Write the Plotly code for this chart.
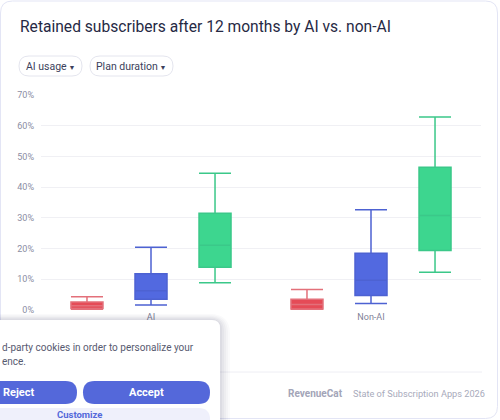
import plotly.graph_objects as go

# ---------------- data ----------------
groups = ["AI", "Non-AI"]
series_names = ["Weekly", "Monthly", "Yearly"]
series_colors = ["#E54B57", "#5269E0", "#3DD68F"]
series_lines = ["#E3707A", "#4D62D2", "#3BC889"]

weekly_min = [0.0, 0.0]
weekly_q1 = [0.5, 0.3]
weekly_med = [1.4, 1.8]
weekly_q3 = [2.6, 3.5]
weekly_max = [4.3, 6.7]

monthly_min = [1.6, 2.1]
monthly_q1 = [3.5, 4.7]
monthly_med = [6.3, 9.7]
monthly_q3 = [11.8, 18.5]
monthly_max = [20.4, 32.6]

yearly_min = [8.9, 12.3]
yearly_q1 = [13.9, 19.4]
yearly_med = [21.1, 30.8]
yearly_q3 = [31.5, 46.5]
yearly_max = [44.5, 62.8]

y_ticks = [0, 10, 20, 30, 40, 50, 60, 70]
y_tick_text = [f"{v}%" for v in y_ticks]

title_text = "Retained subscribers after 12 months by AI vs. non-AI"
filters = ["AI usage", "Plan duration"]

# ---------------- layout geometry ----------------
W, H = 500, 420
L, R, T, B = 41, 19, 95, 110
PW, PH = W - L - R, H - T - B
FONT = "Roboto, 'Liberation Sans', sans-serif"


def px(x):
    return (x - L) / PW


def py(y):
    return (H - B - y) / PH


def rounded_path(x0, y0, x1, y1, r):
    a, b, c, d = px(x0), py(y0), px(x1), py(y1)
    rx, ry = r / PW, r / PH
    return (f"M {a+rx},{b} L {c-rx},{b} Q {c},{b} {c},{b-ry} "
            f"L {c},{d+ry} Q {c},{d} {c-rx},{d} L {a+rx},{d} "
            f"Q {a},{d} {a},{d+ry} L {a},{b-ry} Q {a},{b} {a+rx},{b} Z")


fig = go.Figure()

stats = [
    (weekly_min, weekly_q1, weekly_med, weekly_q3, weekly_max),
    (monthly_min, monthly_q1, monthly_med, monthly_q3, monthly_max),
    (yearly_min, yearly_q1, yearly_med, yearly_q3, yearly_max),
]
for name, col, lcol, (mn, q1, med, q3, mx) in zip(series_names, series_colors, series_lines, stats):
    fig.add_trace(go.Box(
        name=name, x=groups, lowerfence=mn, q1=q1, median=med, q3=q3, upperfence=mx,
        fillcolor=col, line=dict(color=lcol, width=1.5), whiskerwidth=1,
        showlegend=False, hoverinfo="skip",
    ))

shapes = []
# card
shapes.append(dict(type="path", xref="paper", yref="paper",
                   path=rounded_path(0.5, 1, 497.5, 418.5, 12),
                   line=dict(color="#E3E5F5", width=1), fillcolor="rgba(0,0,0,0)", layer="below"))
# filter pills
pill_boxes = [(19, 82), (90, 173)]
for (x0, x1) in pill_boxes:
    shapes.append(dict(type="path", xref="paper", yref="paper",
                       path=rounded_path(x0, 56, x1, 76, 10),
                       line=dict(color="#E4E5EE", width=1), fillcolor="white"))
# separator
shapes.append(dict(type="line", xref="paper", yref="paper",
                   x0=px(40), x1=px(482), y0=py(372), y1=py(372),
                   line=dict(color="#EEEEF4", width=1)))

# cookie panel shadow
for i, a in enumerate([0.025, 0.03, 0.035, 0.04, 0.05]):
    g = 10 - 2 * i
    shapes.append(dict(type="path", xref="paper", yref="paper",
                       path=rounded_path(-20, 320 - g * 0.6, 220 + g, 440, 10 + g),
                       line=dict(width=0), fillcolor=f"rgba(60,60,90,{a})"))
shapes.append(dict(type="path", xref="paper", yref="paper",
                   path=rounded_path(-20, 320, 220, 440, 8),
                   line=dict(width=0), fillcolor="white"))
btn = "#5468DA"
shapes.append(dict(type="path", xref="paper", yref="paper",
                   path=rounded_path(-40, 381, 77, 404, 11.5),
                   line=dict(width=0), fillcolor=btn))
shapes.append(dict(type="path", xref="paper", yref="paper",
                   path=rounded_path(83, 381, 210, 404, 11.5),
                   line=dict(width=0), fillcolor=btn))
shapes.append(dict(type="path", xref="paper", yref="paper",
                   path=rounded_path(-40, 408, 210, 440, 11.5),
                   line=dict(width=0), fillcolor="#EFF0FB"))

ann = []


def text(x, y, s, size, color, anchor="left", family=FONT, weight=None):
    t = f"<b>{s}</b>" if weight == "bold" else s
    ann.append(dict(xref="paper", yref="paper", x=px(x), y=py(y), text=t, showarrow=False,
                    xanchor=anchor, yanchor="middle",
                    font=dict(size=size, color=color, family=family)))


caret = "<span style='font-size:7px'> ▼</span>"
text(18, 27, title_text, 15.6, "#262944")
text(50.5, 66.5, filters[0] + caret, 10.5, "#3C3F5C", anchor="center")
text(131.5, 66.5, filters[1] + caret, 10.5, "#3C3F5C", anchor="center")

text(0, 347, "d-party cookies in order to personalize your", 10, "#575A70")
text(0, 361, "ence.", 10, "#575A70")
text(1, 392.5, "Reject", 11, "white", anchor="left", weight="bold")
text(146, 392.5, "Accept", 11, "white", anchor="center", weight="bold")
text(80, 414.5, "Customize", 9.5, btn, anchor="center", weight="bold")

text(345, 393, "RevenueCat", 10, "#A3A5B8", anchor="right", weight="bold")
text(351, 393, "State of Subscription Apps 2026", 9.2, "#A8AABB")

fig.update_layout(
    width=W, height=H,
    margin=dict(l=L, r=R, t=T, b=B, pad=0),
    paper_bgcolor="white", plot_bgcolor="white",
    boxmode="group", boxgap=0.127, boxgroupgap=0.5,
    shapes=shapes, annotations=ann,
    font=dict(family=FONT),
    xaxis=dict(type="category", range=[-0.5, 1.5], showgrid=False, zeroline=False,
               showline=False, ticks="", tickfont=dict(size=9, color="#7F8198"),
               fixedrange=True),
    yaxis=dict(range=[0, 70], tickmode="array", tickvals=y_ticks, ticktext=y_tick_text,
               showgrid=True, gridcolor="#F0F0F4", gridwidth=1, zeroline=False, showline=False,
               tickfont=dict(size=9, color="#8B8DA3"), ticks="", ticklabelstandoff=6,
               fixedrange=True),
)

fig.write_html("out.html", config={"displayModeBar": False})
